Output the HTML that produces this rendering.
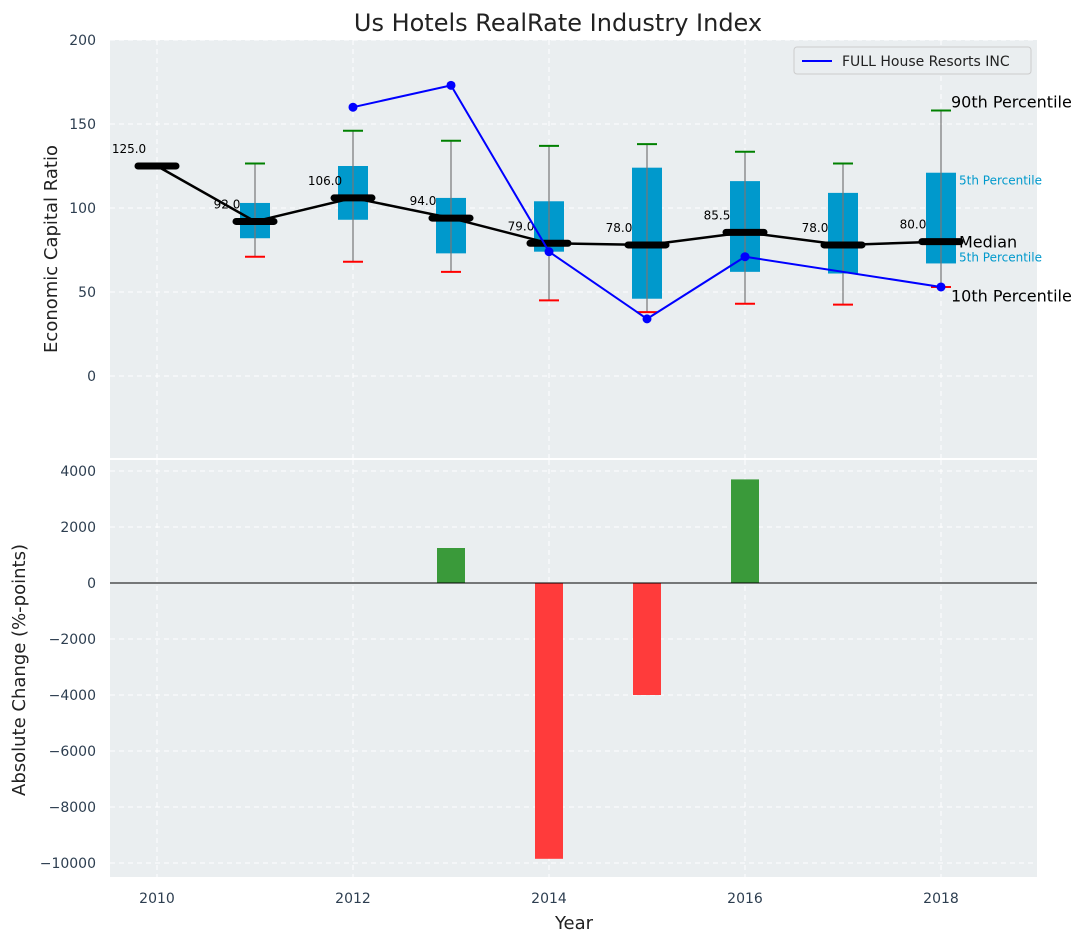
<!DOCTYPE html>
<html><head><meta charset="utf-8"><style>
body{margin:0;background:#fff;font-family:"Liberation Sans","DejaVu Sans",sans-serif}
</style></head><body>
<svg id="chart" width="1086" height="942" xmlns="http://www.w3.org/2000/svg" font-family="DejaVu Sans, Liberation Sans, sans-serif"></svg>
<script>
const years=[2010,2011,2012,2013,2014,2015,2016,2017,2018];
const medians=[125,92,106,94,79,78,85.5,78,80];
const boxLow=[null,82,93,73,74,46,62,61,67];
const boxHigh=[null,103,125,106,104,124,116,109,121];
const p90=[null,126.5,146,140,137,138,133.5,126.5,158];
const p10=[null,71,68,62,45,38,43,42.5,53];
const company=[null,null,160,173,74,34,71,null,53];
const changeYears=[2013,2014,2015,2016];
const changes=[1250,-9850,-4000,3700];
const yTicksTop=[0,50,100,150,200];
const yTicksBot=[-10000,-8000,-6000,-4000,-2000,0,2000,4000];
const xTicks=[2010,2012,2014,2016,2018];

const svg=document.getElementById('chart');
const NS='http://www.w3.org/2000/svg';
function el(tag,attrs,txt){const e=document.createElementNS(NS,tag);for(const k in attrs)e.setAttribute(k,attrs[k]);if(txt!=null)e.textContent=txt;svg.appendChild(e);return e;}
const X=v=>157+(v-2010)*98;
const Y1=v=>376-v*1.68;
const Y2=v=>583-v*0.028;
const L=110,R=1037;

let e;
e=el('rect',{x:L,y:40,width:R-L,height:418,fill:'#eaeef0'});


e=el('rect',{x:L,y:460,width:R-L,height:417,fill:'#eaeef0'});


for(const t of yTicksTop){el('line',{x1:L,x2:R,y1:Y1(t),y2:Y1(t),stroke:'#fff','stroke-dasharray':'5,4','stroke-width':1});
 e=el('text',{x:96,y:Y1(t)+5,'text-anchor':'end','font-size':14,fill:'#2d3e50'},t);
 
 }
for(const t of yTicksBot){el('line',{x1:L,x2:R,y1:Y2(t),y2:Y2(t),stroke:'#fff','stroke-dasharray':'5,4','stroke-width':1});
 e=el('text',{x:96,y:Y2(t)+5,'text-anchor':'end','font-size':14,fill:'#2d3e50'},t<0?'\u2212'+(-t):t);
 
 }
for(const t of xTicks){el('line',{x1:X(t),x2:X(t),y1:40,y2:458,stroke:'#fff','stroke-dasharray':'5,4'});
 el('line',{x1:X(t),x2:X(t),y1:460,y2:877,stroke:'#fff','stroke-dasharray':'5,4'});
 e=el('text',{x:X(t),y:903,'text-anchor':'middle','font-size':14,fill:'#2d3e50'},t);
 
 }
years.forEach((yr,i)=>{
 if(boxLow[i]==null)return;
 const x=X(yr);
 e=el('rect',{x:x-15,y:Y1(boxHigh[i]),width:30,height:Y1(boxLow[i])-Y1(boxHigh[i]),fill:'#0099cc'});
 
 
 el('line',{x1:x,x2:x,y1:Y1(p90[i]),y2:Y1(p10[i]),stroke:'#777','stroke-width':1.2});
 e=el('line',{x1:x-10,x2:x+10,y1:Y1(p90[i]),y2:Y1(p90[i]),stroke:'green','stroke-width':2});
 
 
 e=el('line',{x1:x-10,x2:x+10,y1:Y1(p10[i]),y2:Y1(p10[i]),stroke:'red','stroke-width':2});
 
 
});
e=el('polyline',{points:years.map((y,i)=>X(y)+','+Y1(medians[i])).join(' '),fill:'none',stroke:'#000','stroke-width':2.5});


years.forEach((yr,i)=>{
 const x=X(yr),y=Y1(medians[i]);
 e=el('line',{x1:x-19,x2:x+19,y1:y,y2:y,stroke:'#000','stroke-width':7,'stroke-linecap':'round'});
 
 
 e=el('text',{x:x-28,y:y-13,'text-anchor':'middle','font-size':12,fill:'#000'},medians[i].toFixed(1));
 
 
});
const pts=[];years.forEach((yr,i)=>{if(company[i]!=null)pts.push([X(yr),Y1(company[i])]);});
e=el('polyline',{points:pts.map(p=>p.join(',')).join(' '),fill:'none',stroke:'blue','stroke-width':2});


pts.forEach(p=>{e=el('circle',{cx:p[0],cy:p[1],r:4.5,fill:'blue'});
 
 });
const ax=X(2018);
[['90th Percentile',ax+10,Y1(158)-3,16,'#000'],['5th Percentile',ax+18,Y1(117)+5,12,'#0099cc'],['Median',ax+18,Y1(80)+6,16,'#000'],['5th Percentile',ax+18,Y1(71)+5,12,'#0099cc'],['10th Percentile',ax+10,Y1(48)+6,16,'#000']].forEach(a=>{
 e=el('text',{x:a[1],y:a[2],'font-size':a[3],fill:a[4]},a[0]);
 
 });
e=el('rect',{x:794,y:47,width:237,height:27,fill:'#eaeef0',stroke:'#ccc',rx:3});


el('line',{x1:802,x2:832,y1:61,y2:61,stroke:'blue','stroke-width':2});
e=el('text',{x:842,y:66,'font-size':14,fill:'#222'},'FULL House Resorts INC');


changeYears.forEach((yr,i)=>{
 const v=changes[i];
 e=el('rect',{x:X(yr)-14,y:Math.min(Y2(0),Y2(v)),width:28,height:Math.abs(Y2(v)-Y2(0)),fill:v>=0?'#3a9a3a':'#ff3b3b'});
 
 
});
el('line',{x1:L,x2:R,y1:Y2(0),y2:Y2(0),stroke:'#000','stroke-width':1});
e=el('text',{x:558,y:31,'text-anchor':'middle','font-size':24,fill:'#222'},'Us Hotels RealRate Industry Index');


e=el('text',{x:57,y:249,'text-anchor':'middle','font-size':18,fill:'#222',transform:'rotate(-90 57 249)'},'Economic Capital Ratio');


e=el('text',{x:25,y:670,'text-anchor':'middle','font-size':18,fill:'#222',transform:'rotate(-90 25 670)'},'Absolute Change (%-points)');


e=el('text',{x:574,y:929,'text-anchor':'middle','font-size':18,fill:'#222'},'Year');


</script>
</body></html>
